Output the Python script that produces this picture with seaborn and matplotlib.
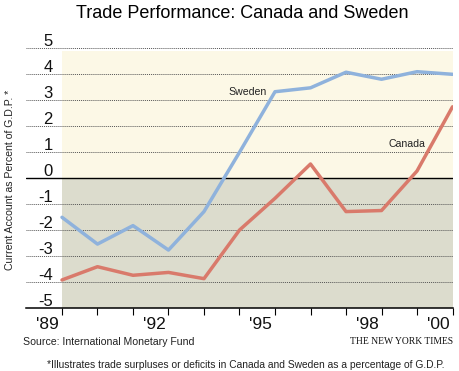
import matplotlib
matplotlib.use("Agg")
import matplotlib.pyplot as plt
import matplotlib.transforms as mtransforms
import seaborn as sns
import pandas as pd

years = list(range(1989, 2001))
sweden = [-1.5, -2.53, -1.82, -2.76, -1.28, 1.0, 3.33, 3.48, 4.08, 3.81, 4.10, 4.0]
canada = [-3.91, -3.40, -3.73, -3.62, -3.86, -1.99, -0.77, 0.55, -1.28, -1.24, 0.28, 2.75]
ytick_values = [-5, -4, -3, -2, -1, 0, 1, 2, 3, 4, 5]
xtick_labels = {1989: "'89", 1992: "'92", 1995: "'95", 1998: "'98", 2000: "'00"}

df = pd.DataFrame({
    "year": years * 2,
    "value": sweden + canada,
    "country": ["Sweden"] * len(years) + ["Canada"] * len(years),
})

sns.set_theme(style="white")
plt.rcParams["font.family"] = ["Liberation Sans", "DejaVu Sans"]

fig = plt.figure(figsize=(4.6, 3.71), dpi=100)
ax = fig.add_axes([0.0565, 0.1690, 0.9283, 0.7008])
ax.set_xlim(1987.986, 2000.014)
ax.set_ylim(-5, 5)

# background bands
ax.fill_between([1989, 2000], 0, 4.88, color="#fcf8e6", lw=0, zorder=0)
ax.fill_between([1989, 2000], -5, 0, color="#dcdccd", lw=0, zorder=0)

# gridlines
for v in ytick_values:
    if v in (0, -5):
        continue
    ax.axhline(v, color="#555555", lw=0.7, ls=(0, (1, 1)), zorder=1)
ax.axhline(0, color="black", lw=1.0, zorder=2)

sns.lineplot(data=df, x="year", y="value", hue="country",
             palette={"Sweden": "#8fb2dc", "Canada": "#d97a6b"},
             linewidth=2.5, legend=False, ax=ax, zorder=3)

for s in ["top", "right", "left"]:
    ax.spines[s].set_visible(False)
ax.spines["bottom"].set_color("black")
ax.spines["bottom"].set_linewidth(1.1)

ax.set_xticks(years)
ax.set_xticklabels([xtick_labels.get(y, "") for y in years], fontsize=12.5)
ax.tick_params(axis="x", direction="out", length=5, width=0.8, color="black",
               pad=1, labelcolor="#111111", bottom=True)
off = mtransforms.ScaledTranslation(-3 / 100, 0, fig.dpi_scale_trans)
for lab in ax.get_xticklabels():
    lab.set_ha("right")
    lab.set_transform(lab.get_transform() + off)

ax.set_yticks([])
ax.set_xlabel("")
ax.set_ylabel("")

trans = mtransforms.blended_transform_factory(ax.transAxes, ax.transData)
for v in ytick_values:
    ax.text(0.0632, v + 0.1, str(v), transform=trans, ha="right", va="baseline",
            fontsize=12, color="#111111")

ax.text(1994.22, 3.32, "Sweden", fontsize=7.6, ha="center", va="center", color="#222222")
ax.text(1998.73, 1.32, "Canada", fontsize=7.6, ha="center", va="center", color="#222222")

fig.text(0.527, 1 - 13 / 371, "Trade Performance: Canada and Sweden", fontsize=13,
         ha="center", va="center", color="black")
fig.text(10 / 460, 1 - 180 / 371, "Current Account as Percent of G.D.P. *", fontsize=7.6,
         rotation=90, ha="center", va="center", color="#222222")
fig.text(23 / 460, 1 - 342 / 371, "Source: International Monetary Fund", fontsize=7.6,
         ha="left", va="center", color="#222222")
fig.text(453 / 460, 1 - 342 / 371, "THE NEW YORK TIMES", fontsize=6.9,
         family=["Liberation Serif", "DejaVu Serif"], ha="right", va="center", color="#111111")
fig.text(246 / 460, 1 - 365 / 371,
         "*Illustrates trade surpluses or deficits in Canada and Sweden as a percentage of G.D.P.",
         fontsize=7.4, ha="center", va="center", color="#222222")

fig.savefig("out.png", dpi=100)
